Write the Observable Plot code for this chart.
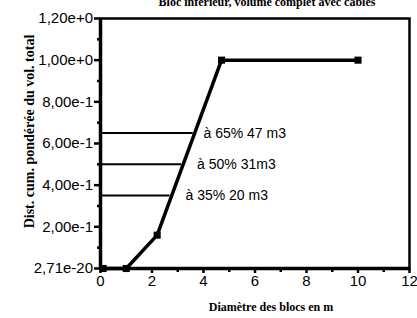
<!DOCTYPE html>
<html>
<head>
<meta charset="utf-8">
<script src="https://cdn.jsdelivr.net/npm/d3@7"></script>
<script src="https://cdn.jsdelivr.net/npm/@observablehq/plot@0.6"></script>
<style>
  html, body { margin: 0; padding: 0; background: #fff; }
</style>
</head>
<body>
<div id="chart"></div>
<script>
// Data
const diam = [0.1, 1.0, 2.2, 4.7, 10];
const cumDist = [0, 0, 0.16, 1.0, 1.0];

const refLevels = [0.65, 0.5, 0.35];
const refX = [3.6, 3.15, 2.7];
const refLabelX = [4.0, 3.75, 3.3];
const refLabels = ["à 65% 47 m3", "à 50% 31m3", "à 35% 20 m3"];

const xTicks = [0, 2, 4, 6, 8, 10, 12];
const xMinorTicks = [1, 3, 5, 7, 9, 11];
const yTicks = [0, 0.2, 0.4, 0.6, 0.8, 1.0, 1.2];
const yTickLabels = ["2,71e-20", "2,00e-1", "4,00e-1", "6,00e-1", "8,00e-1", "1,00e+0", "1,20e+0"];
const yMinorTicks = [0.1, 0.3, 0.5, 0.7, 0.9, 1.1];

const title = "Bloc inférieur, volume complet avec câbles";
const xLabel = "Diamètre des blocs en m";
const yLabel = "Dist. cum. pondérée du vol. total";

const points = diam.map((d, i) => ({x: d, y: cumDist[i]}));
const refs = refLevels.map((y, i) => ({y, x2: refX[i], lx: refLabelX[i], label: refLabels[i]}));

const serif = "'Liberation Serif', 'Times New Roman', serif";

const chart = Plot.plot({
  width: 417,
  height: 318,
  marginLeft: 100,
  marginRight: 8,
  marginTop: 18,
  marginBottom: 50,
  style: {fontFamily: "'Liberation Sans', Arial, sans-serif", fontSize: "15px", background: "#fff", color: "#000"},
  x: {domain: [0, 12]},
  y: {domain: [0, 1.2]},
  marks: [
    Plot.frame({stroke: "#000", strokeWidth: 2.5}),
    Plot.ruleX([0], {stroke: "#000", strokeWidth: 3.5}),
    Plot.ruleY([0], {stroke: "#000", strokeWidth: 3.5}),
    Plot.axisX(xTicks, {tickSize: 5, tickPadding: 2, strokeWidth: 2.5, label: null}),
    Plot.axisX(xMinorTicks, {tickSize: 4, strokeWidth: 2.5, tickFormat: () => "", label: null}),
    Plot.axisY(yTicks, {tickSize: 6, tickPadding: 1.5, strokeWidth: 2.5, label: null,
      tickFormat: d => yTickLabels[yTicks.indexOf(d)]}),
    Plot.axisY(yMinorTicks, {tickSize: 3, strokeWidth: 2.5, tickFormat: () => "", label: null}),
    Plot.ruleY(refs, {y: "y", x1: 0, x2: "x2", stroke: "#000", strokeWidth: 2}),
    Plot.line(points, {x: "x", y: "y", stroke: "#000", strokeWidth: 3.5}),
    Plot.dot(points, {x: "x", y: "y", symbol: "square", r: 4, fill: "#000", stroke: "none"}),
    Plot.text(refs, {x: "lx", y: "y", text: "label", textAnchor: "start", lineAnchor: "middle", fill: "#000", fontSize: 14}),
    Plot.text([title], {text: d => d, frameAnchor: "top", lineAnchor: "bottom", dy: -12.5, dx: 12,
      fontFamily: serif, fontWeight: "bold", fontSize: 12, fill: "#000"}),
    Plot.text([xLabel], {text: d => d, frameAnchor: "bottom", lineAnchor: "middle", dy: 39, dx: 16,
      fontFamily: serif, fontWeight: "bold", fontSize: 12, fill: "#000"}),
    Plot.text([yLabel], {text: d => d, frameAnchor: "left", textAnchor: "middle", rotate: -90, lineAnchor: "middle", dx: -71, dy: -12,
      fontFamily: serif, fontWeight: "bold", fontSize: 14, fill: "#000"})
  ]
});
document.getElementById("chart").appendChild(chart);
</script>
</body>
</html>
